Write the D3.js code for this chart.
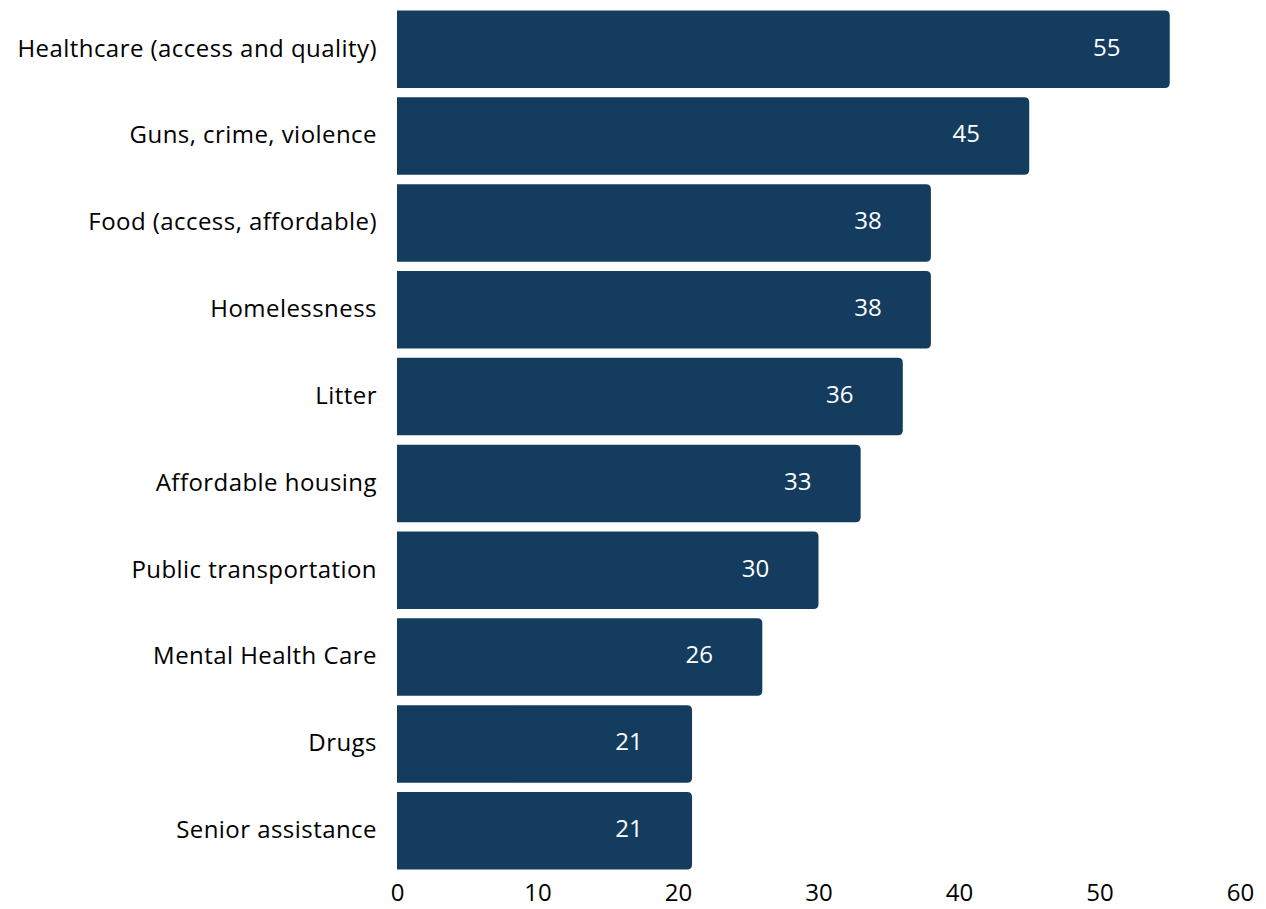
<!DOCTYPE html>
<html>
<head>
<meta charset="utf-8">
<script src="https://cdn.jsdelivr.net/npm/d3@7"></script>
<style>
  body { margin: 0; background: #fff; }
  text { font-family: "Open Sans", "Noto Sans", sans-serif; }
</style>
</head>
<body>
<div id="chart"></div>
<script>
// categories and values, top to bottom
const categories = [
  "Healthcare (access and quality)",
  "Guns, crime, violence",
  "Food (access, affordable)",
  "Homelessness",
  "Litter",
  "Affordable housing",
  "Public transportation",
  "Mental Health Care",
  "Drugs",
  "Senior assistance"
];
const values = [55, 45, 38, 38, 36, 33, 30, 26, 21, 21];
const xTicks = [0, 10, 20, 30, 40, 50, 60];

const width = 1266;
const height = 909;
const barColor = "#133c5f";
const fontSize = "24px";

const svg = d3.select("#chart")
  .append("svg")
  .attr("width", width)
  .attr("height", height);

const x = d3.scaleLinear()
  .domain([0, 60])
  .range([397, 1240]);

const y = d3.scaleBand()
  .domain(categories)
  .range([10.5, 869.5])
  .paddingInner(0.107)
  .paddingOuter(0);

// bar with rounded right corners only
function barPath(x0, x1, y0, h, r) {
  return `M${x0},${y0}H${x1 - r}Q${x1},${y0} ${x1},${y0 + r}` +
    `V${y0 + h - r}Q${x1},${y0 + h} ${x1 - r},${y0 + h}H${x0}Z`;
}

const data = categories.map((c, i) => ({ cat: c, val: values[i] }));

svg.append("g")
  .selectAll("path")
  .data(data)
  .enter()
  .append("path")
  .attr("d", d => barPath(x(0), x(d.val), y(d.cat), y.bandwidth(), 5))
  .attr("fill", barColor);

// value labels inside bars
svg.append("g")
  .selectAll("text")
  .data(data)
  .enter()
  .append("text")
  .attr("x", d => x(d.val) - 63)
  .attr("y", d => y(d.cat) + y.bandwidth() / 2 - 2)
  .attr("dy", "0.35em")
  .attr("text-anchor", "middle")
  .attr("fill", "#fff")
  .style("font-size", fontSize)
  .text(d => d.val);

// category labels
svg.append("g")
  .selectAll("text")
  .data(data)
  .enter()
  .append("text")
  .attr("x", 377)
  .attr("y", d => y(d.cat) + y.bandwidth() / 2 - 1)
  .attr("dy", "0.35em")
  .attr("text-anchor", "end")
  .attr("fill", "#000")
  .style("font-size", fontSize)
  .style("letter-spacing", "0.45px")
  .text(d => d.cat);

// x axis, labels only
const xAxis = svg.append("g")
  .attr("transform", "translate(0,878)")
  .call(d3.axisBottom(x).tickValues(xTicks).tickSize(0).tickPadding(6));
xAxis.select(".domain").remove();
xAxis.selectAll("text")
  .style("font-size", fontSize)
  .style("font-family", "'Open Sans', 'Noto Sans', sans-serif")
  .attr("fill", "#000");
</script>
</body>
</html>
